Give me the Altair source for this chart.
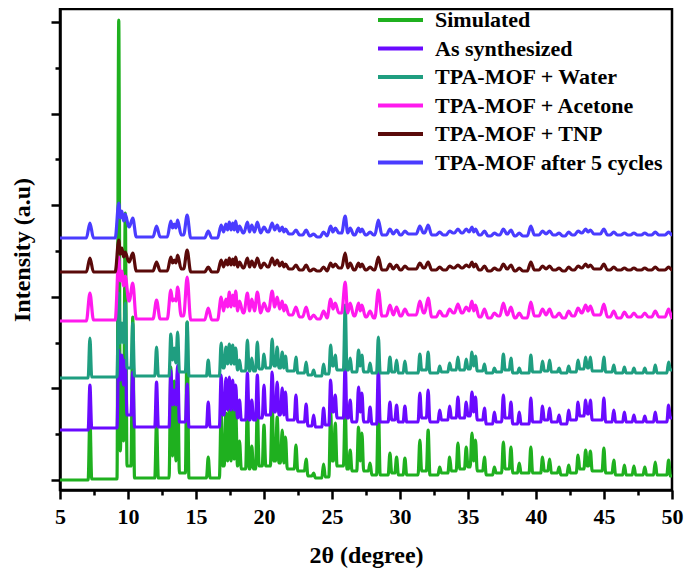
import altair as alt
import pandas as pd

series_names = ["Simulated", "As synthesized", "TPA-MOF + Water",
                "TPA-MOF + Acetone", "TPA-MOF + TNP", "TPA-MOF after 5 cycles"]
series_colors = ["#1fb01f", "#6a0aff", "#1f9e80", "#ff1aee", "#5a0a0a", "#4a3cff"]

# baseline level of each stacked trace (a.u.)
offsets = [0, 51, 103, 160, 209, 243]

# peak positions (2theta, degree)
peak_pos = [7.2, 9.32, 9.55, 9.8, 10.35, 12.1, 13.15, 13.4, 13.65, 14.35,
            15.9, 16.85, 17.2, 17.45, 17.7, 17.92, 18.2, 18.78, 19.1, 19.51,
            20.0, 20.6, 20.97, 21.34, 21.58, 22.35, 23.1, 23.65, 24.38, 24.9,
            25.24, 25.97, 26.34, 26.95, 27.2, 27.8, 28.41, 29.26, 29.75, 30.36,
            31.46, 32.07, 32.92, 33.65, 34.26, 34.87, 35.29, 35.55, 36.21, 36.94,
            37.6, 38.16, 38.77, 39.62, 40.48, 41.0, 41.7, 42.4, 43.09, 43.65,
            44.0, 44.99, 45.72, 46.5, 47.2, 48.0, 48.77, 49.75]

# peak heights above each trace's baseline
sim_peaks = [65, 461, 100, 268, 164, 60, 114, 100, 110, 159,
             24, 70, 68, 73, 73, 71, 40, 76, 35, 73,
             56, 76, 64, 51, 44, 36, 22, 8, 17, 69,
             58, 74, 31, 54, 48, 18, 78, 28, 24, 23,
             41, 51, 14, 24, 38, 34, 48, 41, 24, 14,
             39, 34, 18, 34, 24, 22, 14, 16, 26, 31,
             30, 33, 21, 16, 15, 14, 19, 21]
syn_peaks = [45, 80, 75, 70, 58, 48, 60, 40, 65, 46,
             28, 55, 52, 53, 50, 45, 30, 57, 30, 55,
             45, 58, 48, 42, 38, 35, 26, 15, 22, 50,
             35, 67, 30, 43, 37, 23, 62, 28, 25, 24,
             37, 40, 20, 24, 33, 28, 38, 33, 22, 18,
             35, 28, 18, 32, 24, 22, 15, 20, 28, 30,
             30, 32, 20, 18, 15, 14, 18, 25]
wat_peaks = [40, 85, 55, 75, 55, 31, 44, 30, 46, 56,
             18, 35, 31, 34, 33, 30, 18, 38, 20, 36,
             24, 39, 31, 26, 22, 21, 16, 8, 14, 33,
             23, 73, 20, 28, 23, 15, 41, 21, 18, 17,
             24, 26, 12, 15, 21, 19, 26, 22, 14, 10,
             24, 20, 10, 23, 17, 18, 10, 12, 18, 21,
             21, 21, 13, 11, 10, 10, 13, 16]
ace_peaks = [28, 64, 50, 45, 38, 21, 31, 22, 34, 44,
             13, 24, 22, 29, 26, 30, 20, 28, 22, 29,
             18, 30, 24, 20, 16, 14, 14, 6, 10, 22,
             18, 39, 18, 18, 16, 10, 31, 16, 14, 12,
             20, 23, 10, 12, 17, 14, 20, 16, 12, 8,
             18, 14, 8, 19, 12, 12, 8, 10, 13, 16,
             15, 17, 10, 9, 8, 8, 10, 12]
tnp_peaks = [14, 32, 24, 20, 19, 10, 15, 12, 17, 22,
             5, 12, 12, 14, 13, 15, 10, 14, 11, 14,
             9, 14, 12, 10, 8, 7, 7, 3, 5, 9,
             8, 19, 9, 9, 8, 5, 15, 8, 7, 6,
             9, 10, 5, 6, 7, 7, 10, 8, 6, 4,
             8, 7, 4, 10, 6, 6, 4, 5, 6, 8,
             7, 8, 5, 4, 4, 4, 5, 5]
cyc_peaks = [15, 35, 27, 24, 20, 12, 17, 14, 18, 23,
             7, 13, 14, 16, 15, 17, 12, 16, 13, 16,
             11, 15, 13, 11, 9, 8, 8, 4, 6, 12,
             10, 22, 10, 10, 9, 6, 18, 9, 8, 7,
             12, 13, 6, 7, 9, 9, 11, 9, 7, 5,
             9, 8, 5, 12, 7, 7, 5, 6, 7, 9,
             8, 9, 6, 5, 5, 5, 6, 6]

# levels between peaks (before first, between each pair, after last)
sim_valleys = [1, 2, 30, 40, 15, 3, 3, 25, 20, 8,
               3, 3, 15, 20, 20, 22, 15, 12, 12, 12,
               15, 15, 20, 18, 18, 12, 10, 5, 3, 4,
               20, 15, 12, 10, 20, 10, 6, 6, 8, 6,
               6, 10, 6, 8, 10, 12, 14, 20, 10, 6,
               8, 12, 8, 8, 8, 10, 8, 6, 8, 12,
               15, 10, 8, 6, 6, 6, 6, 6, 5]
syn_valleys = [0, 2, 50, 45, 15, 3, 3, 25, 25, 8,
               3, 3, 15, 20, 20, 20, 12, 10, 10, 10,
               12, 15, 18, 15, 15, 10, 8, 4, 3, 5,
               18, 12, 12, 8, 18, 8, 6, 8, 10, 8,
               8, 12, 8, 10, 12, 12, 14, 18, 10, 6,
               8, 12, 6, 6, 8, 10, 8, 6, 10, 14,
               16, 10, 8, 8, 8, 8, 8, 8, 12]
wat_valleys = [0, 1, 35, 35, 10, 2, 2, 18, 15, 6,
               2, 2, 10, 14, 14, 14, 8, 7, 7, 7,
               9, 10, 12, 10, 10, 7, 5, 3, 2, 4,
               12, 8, 8, 6, 12, 6, 5, 5, 6, 5,
               5, 8, 5, 6, 8, 8, 9, 12, 7, 5,
               6, 8, 5, 5, 6, 7, 6, 5, 6, 9,
               10, 7, 6, 5, 5, 5, 5, 5, 8]
ace_valleys = [0, 1, 40, 35, 20, 2, 2, 20, 20, 5,
               1, 1, 10, 14, 14, 15, 10, 8, 10, 10,
               8, 10, 14, 12, 10, 6, 4, 2, 2, 3,
               12, 8, 8, 5, 10, 4, 3, 5, 6, 5,
               6, 8, 4, 5, 8, 8, 10, 10, 4, 3,
               5, 6, 3, 3, 5, 6, 4, 3, 5, 8,
               10, 6, 4, 3, 4, 4, 4, 4, 3]
tnp_valleys = [0, 0, 18, 15, 10, 1, 1, 9, 9, 3,
               0, 0, 5, 7, 7, 7, 5, 4, 5, 5,
               4, 5, 7, 6, 5, 3, 2, 1, 1, 1,
               5, 4, 4, 2, 5, 2, 2, 2, 3, 2,
               3, 4, 2, 2, 4, 4, 5, 5, 2, 1,
               2, 3, 1, 1, 2, 3, 2, 1, 2, 4,
               5, 3, 2, 2, 2, 2, 2, 2, 2]
cyc_valleys = [0, 0, 20, 17, 11, 1, 1, 10, 10, 3,
               0, 0, 6, 8, 8, 8, 6, 5, 6, 6,
               5, 6, 8, 7, 6, 4, 3, 2, 1, 2,
               6, 5, 5, 3, 6, 3, 3, 3, 4, 3,
               4, 5, 3, 3, 5, 5, 6, 6, 3, 2,
               3, 4, 2, 2, 3, 4, 3, 2, 3, 5,
               6, 4, 3, 3, 3, 3, 3, 3, 3]

all_peaks = [sim_peaks, syn_peaks, wat_peaks, ace_peaks, tnp_peaks, cyc_peaks]
all_valleys = [sim_valleys, syn_valleys, wat_valleys, ace_valleys, tnp_valleys, cyc_valleys]
half_widths = [0.13, 0.13, 0.13, 0.26, 0.26, 0.26]


def trace(peaks, valleys, w):
    n = len(peak_pos)
    pts = [(5.0, valleys[0])]
    for i, p in enumerate(peak_pos):
        if i == 0 or p - peak_pos[i - 1] > 2 * w:
            pts.append((p - w, valleys[i]))
        pts.append((p, peaks[i]))
        if i == n - 1 or peak_pos[i + 1] - p > 2 * w:
            pts.append((p + w, valleys[i + 1]))
        else:
            pts.append(((p + peak_pos[i + 1]) / 2, valleys[i + 1]))
    pts.append((50.0, valleys[n]))
    return pts


rows = []
for name, off, pk, vl, w in zip(series_names, offsets, all_peaks, all_valleys, half_widths):
    for k, (x, y) in enumerate(trace(pk, vl, w)):
        rows.append({"angle": x, "intensity": off + y, "series": name, "k": k})
df = pd.DataFrame(rows)

x_ticks = [5 + 2.5 * k for k in range(19)]
y_ticks = [1 + 45.8 * k for k in range(11)]

FONT = "Liberation Serif"

x_enc = alt.X("angle:Q", scale=alt.Scale(domain=[5, 50], nice=False, zero=False),
              axis=alt.Axis(title="2θ (degree)", values=x_ticks,
                            labelExpr="datum.value % 5 === 0 ? datum.label : ''",
                            tickSize={"condition": {"test": "datum.value % 5 === 0", "value": 9}, "value": 5},
                            labelPadding=7, titlePadding=16, labelFlush=False))
y_enc = alt.Y("intensity:Q", scale=alt.Scale(domain=[-9, 472], nice=False, zero=False),
              axis=alt.Axis(title="Intensity (a.u)", values=y_ticks, labels=False,
                            tickSize={"condition": {"test": "abs((datum.value - 1) / 91.6 - round((datum.value - 1) / 91.6)) < 0.01", "value": 9}, "value": 5},
                            titlePadding=15))
c_enc = alt.Color("series:N", scale=alt.Scale(domain=series_names, range=series_colors),
                  legend=alt.Legend(title=None, orient="none", legendX=316, legendY=0,
                                    symbolType="stroke", symbolSize=2025, symbolStrokeWidth=4,
                                    clipHeight=22,
                                    labelFont=FONT, labelFontSize=22, labelFontWeight="bold",
                                    labelColor="black", labelOffset=10, rowPadding=6.5,
                                    padding=0, symbolOffset=0, labelLimit=400))

layers = [
    alt.Chart(df).transform_filter(alt.datum.series == n)
    .mark_line(strokeWidth=3.2, clip=True, interpolate="monotone")
    .encode(x=x_enc, y=y_enc, color=c_enc, order="k:Q")
    for n in series_names
]

chart = alt.layer(*layers).properties(
    width=612, height=481,
    padding={"left": 52, "top": 1, "right": 13, "bottom": 78},
    autosize=alt.AutoSizeParams(type="none"),
).configure_view(stroke="black", strokeWidth=2.5).configure_axis(
    domainColor="black", domainWidth=2.5, tickColor="black", tickWidth=2.5,
    labelFont=FONT, labelFontSize=22, labelFontWeight="bold", labelColor="black",
    titleFont=FONT, titleFontSize=24, titleFontWeight="bold", titleColor="black",
    grid=False,
)

chart.save("out.html", embed_options={"renderer": "svg", "actions": False})
